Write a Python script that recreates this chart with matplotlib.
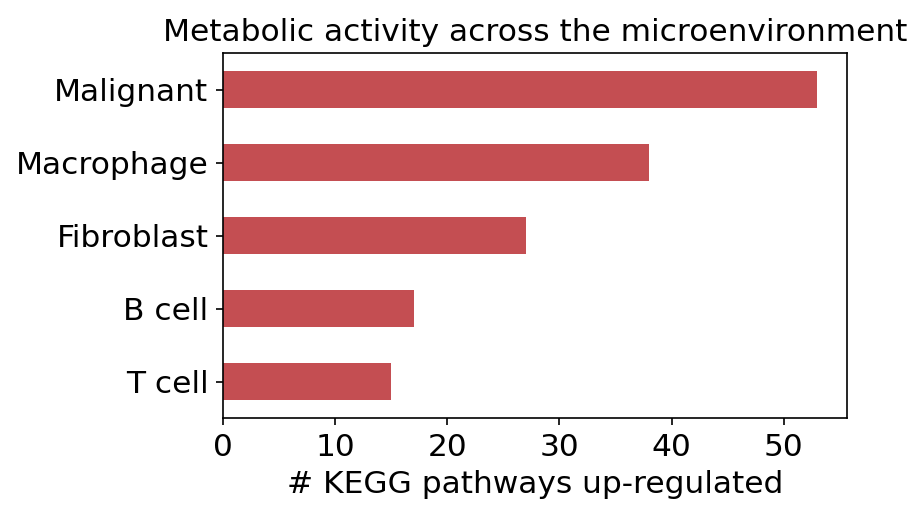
import matplotlib
matplotlib.use("Agg")
import matplotlib.pyplot as plt

# cell types, bottom to top
cell_types = ["T cell", "B cell", "Fibroblast", "Macrophage", "Malignant"]
n_pathways = [15, 17, 27, 38, 53]

BAR_COLOR = "#c44e52"
FONT_SIZE = 15

plt.rcParams["font.family"] = ["DejaVu Sans"]

fig = plt.figure(figsize=(921 / 150, 520 / 150), dpi=150)
ax = fig.add_axes([223 / 921, 1 - 418 / 520, (847 - 223) / 921, (418 - 53) / 520])

ax.barh(range(len(cell_types)), n_pathways, height=0.5, color=BAR_COLOR)
ax.set_yticks(range(len(cell_types)))
ax.set_yticklabels(cell_types, fontsize=FONT_SIZE)
ax.set_ylim(-0.5, len(cell_types) - 0.5)
ax.set_xlim(0, max(n_pathways) * 1.05)
ax.tick_params(axis="x", labelsize=FONT_SIZE)
ax.set_xlabel("# KEGG pathways up-regulated", fontsize=FONT_SIZE)
ax.set_title("Metabolic activity across the microenvironment", fontsize=FONT_SIZE)

fig.savefig("out.png", dpi=150)
